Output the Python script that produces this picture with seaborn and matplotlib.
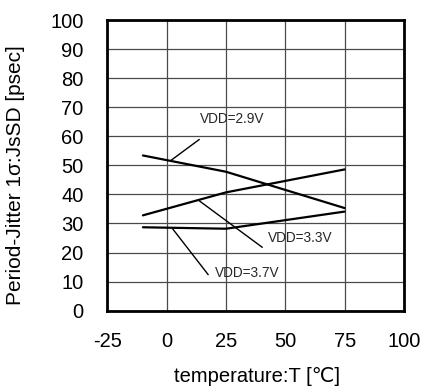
import matplotlib
matplotlib.use("Agg")
import matplotlib.pyplot as plt
import seaborn as sns
import pandas as pd

temps = [-10, 25, 75]
vdd29 = [53.4, 47.8, 35.3]
vdd33 = [32.8, 40.7, 48.6]
vdd37 = [28.7, 28.2, 34.1]
series_names = ["VDD=2.9V", "VDD=3.3V", "VDD=3.7V"]
x_ticks = [-25, 0, 25, 50, 75, 100]
y_ticks = [0, 10, 20, 30, 40, 50, 60, 70, 80, 90, 100]

rows = []
for name, vals in zip(series_names, [vdd29, vdd33, vdd37]):
    for t, v in zip(temps, vals):
        rows.append({"T": t, "jitter": v, "series": name})
df = pd.DataFrame(rows)

sns.set_style("white")
plt.rcParams['font.family'] = ['Liberation Sans', 'DejaVu Sans']

fig = plt.figure(figsize=(4.22, 3.90), dpi=100)
ax = fig.add_axes([107.3 / 422, 1 - 310.7 / 390, 296.7 / 422, 290.7 / 390])

sns.lineplot(data=df, x="T", y="jitter", units="series", estimator=None,
             color="black", linewidth=1.6, ax=ax, legend=False)

ax.set_xlim(-25, 100)
ax.set_ylim(0, 100)
ax.set_xticks(x_ticks)
ax.set_yticks(y_ticks)
ax.set_xticklabels([str(v) for v in x_ticks])
ax.set_yticklabels([str(v) for v in y_ticks])
ax.grid(True, color="#4a4a4a", linewidth=0.9)
ax.set_axisbelow(True)
for s in ax.spines.values():
    s.set_color("black")
    s.set_linewidth(2)
ax.tick_params(axis="both", length=0, labelsize=14.5, colors="black")
ax.tick_params(axis="y", pad=17)
ax.tick_params(axis="x", pad=15)

ax.set_xlabel("temperature:T [℃]", fontsize=14.5, color="black")
ax.xaxis.label.set_va("center")
ax.xaxis.set_label_coords(0.506, (310.7 - 377) / 290.7)
ax.set_ylabel("Period-Jitter 1σ:JsSD [psec]", fontsize=15, color="black")
ax.yaxis.label.set_va("center")
ax.yaxis.label.set_ha("center")
ax.yaxis.set_label_coords((16 - 107.3) / 296.7, (310.7 - 175) / 290.7)

# annotations with leader lines
ax.plot([13.75, 1.8], [58.9, 51.7], color="black", linewidth=1)
ax.text(13.9, 65.8, "VDD=2.9V", fontsize=9.8, va="center", ha="left")
ax.plot([13.75, 40.3], [37.8, 21.8], color="black", linewidth=1)
ax.text(42.8, 25.0, "VDD=3.3V", fontsize=9.8, va="center", ha="left")
ax.plot([2.5, 17.5], [28.2, 12.4], color="black", linewidth=1)
ax.text(20.4, 12.9, "VDD=3.7V", fontsize=9.8, va="center", ha="left")

fig.savefig("out.png", dpi=100)
